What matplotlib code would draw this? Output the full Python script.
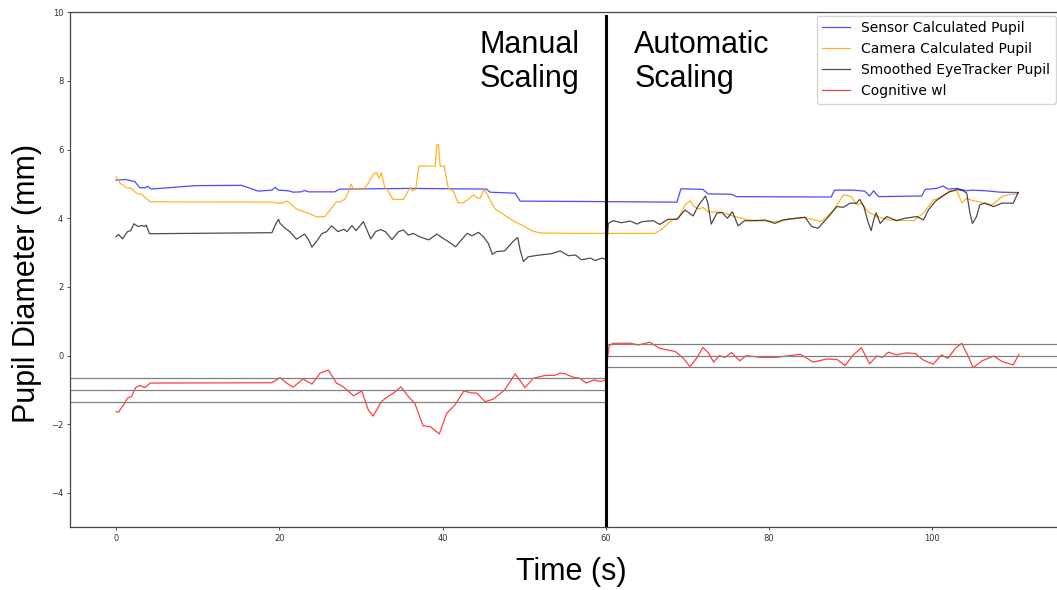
import matplotlib
matplotlib.use("Agg")
import matplotlib.pyplot as plt

# sensor calculated pupil (mm)
sensor_t = [0, 1.1, 2.3, 2.9, 3.55, 3.9, 4.3, 9.7, 15.4, 17.4, 19.1, 19.5, 19.9, 21.1, 21.7,
            22.7, 23.1, 23.6, 26.8, 27.4, 28.0, 36.0, 45.4, 45.8, 48.9, 49.5, 56.8, 68.7, 69.2,
            71.9, 72.5, 75.4, 76.0, 85.6, 87.6, 88.0, 90.3, 91.7, 92.3, 92.8, 93.4, 98.7, 99.1,
            100.5, 101.3, 101.9, 103.0, 104.2, 104.8, 106.6, 108.3, 110.5]
sensor_v = [5.11, 5.13, 5.07, 4.89, 4.89, 4.93, 4.85, 4.95, 4.96, 4.79, 4.82, 4.90, 4.82, 4.80, 4.76,
            4.77, 4.81, 4.77, 4.77, 4.85, 4.85, 4.87, 4.85, 4.76, 4.73, 4.50, 4.49, 4.47, 4.86,
            4.84, 4.71, 4.70, 4.63, 4.62, 4.62, 4.82, 4.82, 4.79, 4.65, 4.80, 4.63, 4.65, 4.84,
            4.87, 4.94, 4.85, 4.87, 4.80, 4.82, 4.80, 4.76, 4.75]

# camera calculated pupil (mm)
cam_t = [0, 0.5, 1.3, 1.9, 2.5, 3.1, 4.2, 19.1, 20.1, 21.0, 22.1, 23.4, 24.6, 25.6, 27.0,
         27.4, 28.0, 28.3, 28.8, 29.1, 30.3, 30.9, 31.5, 31.9, 32.2, 32.5, 32.9, 33.3, 33.9, 35.2,
         36.0, 36.3, 36.7, 37.1, 39.1, 39.3, 39.5, 39.7, 40.2, 40.7, 41.3, 41.9, 42.5, 43.0, 43.8,
         44.3, 44.6, 45.1, 45.6, 46.4, 47.4, 48.7, 49.9, 50.9, 51.9, 56.8, 66.0, 67.0, 68.1, 68.9,
         69.7, 70.3, 70.8, 71.4, 71.9, 72.5, 74.2, 75.8, 77.5, 80.7, 82.3, 84.4, 85.6, 86.4, 87.9,
         89.1, 90.1, 90.7, 91.3, 92.1, 93.2, 94.8, 97.7, 98.9, 100.1, 101.1, 102.1, 103.0, 103.6,
         104.2, 105.0, 105.8, 107.3, 108.5, 109.5, 110.5]
cam_v = [5.21, 5.02, 4.89, 4.87, 4.73, 4.70, 4.48, 4.47, 4.43, 4.50, 4.27, 4.16, 4.04, 4.05, 4.48,
         4.47, 4.55, 4.68, 4.99, 4.84, 4.84, 5.02, 5.28, 5.33, 5.16, 5.32, 4.92, 4.82, 4.55, 4.55,
         4.89, 4.80, 4.84, 5.52, 5.52, 6.15, 6.15, 5.52, 5.52, 4.87, 4.80, 4.45, 4.45, 4.53, 4.68,
         4.58, 4.58, 4.85, 4.63, 4.27, 4.12, 3.92, 3.78, 3.64, 3.57, 3.56, 3.56, 3.71, 3.95, 4.00,
         4.39, 4.51, 4.34, 4.27, 4.32, 4.19, 4.17, 4.05, 3.95, 3.90, 3.97, 4.02, 3.95, 3.90, 4.24,
         4.68, 4.63, 4.39, 4.44, 4.19, 4.05, 3.95, 3.93, 4.15, 4.53, 4.61, 4.80, 4.80, 4.45,
         4.58, 4.51, 4.47, 4.39, 4.63, 4.70, 4.71]

# smoothed eyetracker pupil (mm)
eye_t = [0, 0.3, 0.8, 1.4, 1.8, 2.2, 2.7, 3.2, 3.5, 3.7, 4.1, 19.1, 19.5, 19.9, 20.1, 20.7, 21.3,
         22.1, 23.1, 23.6, 24.0, 24.6, 25.2, 25.8, 26.4, 27.2, 27.9, 28.3, 28.9, 29.4, 30.3, 31.2,
         31.8, 32.4, 33.0, 33.8, 34.6, 35.2, 35.8, 36.4, 37.2, 38.3, 39.3, 39.9, 40.7, 41.6, 42.3,
         43.0, 43.6, 44.4, 45.0, 45.6, 46.1, 46.6, 47.6, 48.7, 49.2, 49.5, 49.9, 50.5, 51.9, 53.4,
         54.4, 55.4, 56.3, 57.0, 58.1, 58.7, 59.5, 60.0, 60.3, 60.9, 61.9, 63.0, 63.8, 64.4, 65.8,
         66.6, 67.6, 68.7, 69.7, 70.7, 71.3, 72.2, 72.5, 72.9, 73.6, 74.2, 74.9, 75.5, 76.2, 77.0,
         78.3, 79.5, 80.7, 81.7, 83.2, 84.4, 85.2, 86.0, 87.1, 88.3, 89.1, 89.9, 90.7, 91.1, 91.6,
         92.1, 92.5, 92.8, 93.1, 93.6, 94.4, 95.6, 96.6, 98.1, 98.9, 99.5, 100.3, 101.1, 102.1,
         103.0, 103.8, 104.2, 104.6, 104.9, 105.4, 105.8, 106.4, 107.5, 108.5, 109.9, 110.5]
eye_v = [3.46, 3.53, 3.40, 3.61, 3.64, 3.84, 3.76, 3.79, 3.76, 3.80, 3.55, 3.58, 3.80, 3.97, 3.85,
         3.71, 3.61, 3.39, 3.54, 3.37, 3.16, 3.34, 3.55, 3.61, 3.78, 3.61, 3.68, 3.61, 3.79, 3.64,
         3.90, 3.40, 3.61, 3.67, 3.61, 3.38, 3.61, 3.66, 3.51, 3.56, 3.46, 3.37, 3.54, 3.44, 3.32,
         3.17, 3.37, 3.56, 3.49, 3.59, 3.46, 3.27, 2.95, 3.03, 3.05, 3.34, 3.44, 3.08, 2.74, 2.88,
         2.93, 2.97, 3.05, 2.91, 2.93, 2.79, 2.84, 2.77, 2.84, 2.81, 3.85, 3.93, 3.87, 3.92, 3.83,
         3.90, 3.93, 3.82, 3.97, 3.97, 4.24, 4.07, 4.36, 4.65, 4.44, 3.83, 4.15, 4.17, 4.00, 4.19,
         3.78, 3.93, 3.93, 3.95, 3.85, 3.95, 4.00, 4.03, 3.76, 3.71, 4.00, 4.34, 4.32, 4.44, 4.44,
         4.55, 4.34, 3.90, 3.64, 3.95, 4.16, 3.85, 4.05, 3.93, 4.00, 4.05, 3.95, 4.24, 4.48, 4.63,
         4.77, 4.84, 4.80, 4.73, 4.15, 3.85, 4.05, 4.39, 4.44, 4.34, 4.44, 4.44, 4.75]

# cognitive workload (scaled)
wl_t = [0, 0.3, 0.9, 1.4, 1.9, 2.4, 2.9, 3.55, 4.2, 19.1, 20.1, 20.9, 21.7, 22.9, 24.0, 25.0, 26.0,
        27.0, 27.8, 29.1, 30.1, 30.9, 31.5, 32.5, 33.3, 34.0, 34.9, 35.8, 36.6, 37.6, 38.5, 39.6,
        40.5, 41.5, 42.6, 43.6, 44.2, 45.2, 46.2, 47.6, 48.9, 50.1, 51.1, 52.5, 53.8, 54.4, 55.0,
        56.0, 56.8, 57.6, 58.5, 59.3, 59.9, 60.4, 60.9, 63.0, 64.0, 65.4, 66.6, 68.5, 69.5, 70.3,
        71.1, 71.9, 72.6, 73.2, 73.9, 74.6, 75.4, 76.4, 77.2, 78.9, 80.9, 82.6, 83.8, 85.4, 87.0,
        88.3, 89.3, 90.3, 91.3, 92.3, 93.2, 93.9, 94.6, 95.6, 96.8, 97.9, 98.9, 100.1, 101.1,
        101.9, 102.8, 103.6, 104.2, 105.0, 106.1, 107.5, 108.5, 109.9, 110.6]
wl_v = [-1.63, -1.65, -1.44, -1.24, -1.19, -0.93, -0.87, -0.93, -0.80, -0.79, -0.64, -0.80, -0.92,
        -0.68, -0.83, -0.51, -0.42, -0.80, -0.90, -1.17, -1.03, -1.58, -1.76, -1.34, -1.19, -1.09,
        -0.91, -1.19, -1.39, -2.04, -2.07, -2.28, -1.68, -1.44, -1.03, -1.09, -1.09, -1.34, -1.27,
        -1.00, -0.53, -0.93, -0.66, -0.58, -0.57, -0.51, -0.53, -0.63, -0.66, -0.80, -0.71, -0.75,
        -0.72, 0.29, 0.36, 0.36, 0.31, 0.39, 0.21, 0.12, -0.08, -0.32, -0.08, 0.24, 0.07, -0.19,
        0.00, -0.05, 0.09, -0.15, 0.00, -0.05, -0.05, 0.00, 0.04, -0.19, -0.10, -0.11, -0.29, 0.02,
        0.23, -0.24, -0.01, -0.05, 0.10, 0.02, 0.08, 0.06, -0.13, -0.25, 0.02, -0.08, 0.21, 0.36,
        0.07, -0.35, -0.15, -0.01, -0.17, -0.27, 0.04]

# mean +/- std of workload for each half
manual_band = [-0.66, -1.0, -1.36]
auto_band = [0.34, 0.0, -0.34]
split_time = 60

x_min, x_max = -5.6, 116.1

fig = plt.figure(figsize=(10.57, 5.9), dpi=100)
ax = fig.add_axes([0.0665, 0.1063, 0.940, 0.8729])

ax.plot(sensor_t, sensor_v, color="blue", alpha=0.7, lw=0.9, label="Sensor Calculated Pupil")
ax.plot(cam_t, cam_v, color="orange", alpha=0.85, lw=0.9, label="Camera Calculated Pupil")
ax.plot(eye_t, eye_v, color="black", alpha=0.7, lw=0.9, label="Smoothed EyeTracker Pupil")
ax.plot(wl_t, wl_v, color="red", alpha=0.75, lw=0.9, label="Cognitive wl")

ax.hlines(manual_band, x_min, split_time, color="gray", lw=0.9)
ax.hlines(auto_band, split_time, x_max, color="gray", lw=0.9)
ax.plot([split_time, split_time], [-5, 9.9], color="black", lw=2.2, zorder=5)

# baseline here is the one of the last line ("Scaling")
ax.text(44.5, 7.81, "Manual\nScaling", fontsize=22, family="Liberation Sans", va="baseline")
ax.text(63.5, 7.81, "Automatic\nScaling", fontsize=22, family="Liberation Sans", va="baseline")

ax.set_xlim(x_min, x_max)
ax.set_ylim(-5, 10)
ax.set_xticks([0, 20, 40, 60, 80, 100])
ax.tick_params(labelsize=6, length=2.5, width=0.6, pad=2.5, colors="#333333")
for s in ax.spines.values():
    s.set_color("#444444")
    s.set_linewidth(0.9)

fig.text(571.7 / 1057, 1 - 580 / 590, "Time (s)", fontsize=22, family="Liberation Sans",
         ha="center", va="baseline")
fig.text(27.5 / 1057, 1 - 283.5 / 590, "Pupil Diameter (mm)", fontsize=22, family="Liberation Sans",
         rotation=90, ha="center", va="center")

ax.legend(loc="upper left", bbox_to_anchor=(816.7 / 1057, 1 - 15.7 / 590),
          bbox_transform=fig.transFigure, borderaxespad=0, fontsize=10)

fig.savefig("out.png", dpi=100)
